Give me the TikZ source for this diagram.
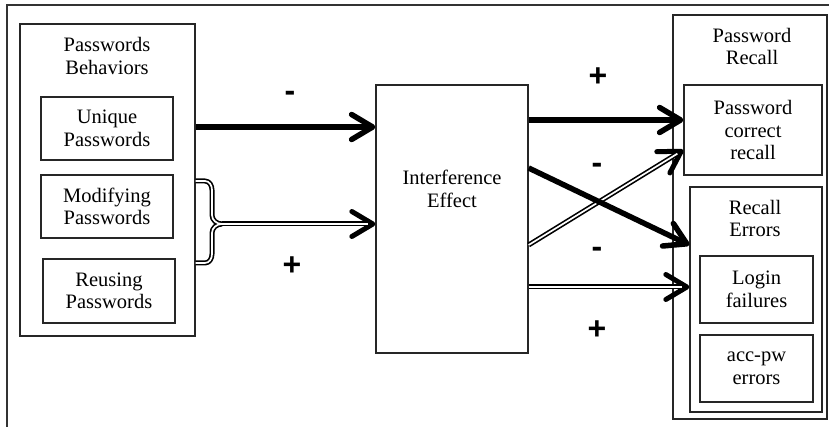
\documentclass[tikz,border=0pt]{standalone}
\usepackage{fontspec}
\setmainfont{Liberation Serif}
\newfontfamily\signfont{Liberation Sans}
\usetikzlibrary{arrows.meta}

\tikzset{barb/.tip={Straight Barb[length=21pt, width=25pt, round]}}

\begin{document}
\begin{tikzpicture}[x=1pt, y=-1pt,
        font=\fontsize{20.5}{22.5}\selectfont,
        box/.style={draw=black!85, line width=1.3pt, align=center, inner sep=0pt},
        title/.style={align=center},
        sign/.style={font=\signfont\bfseries\fontsize{32}{32}\selectfont},
        strong/.style={line width=5.5pt, -barb},
        dblout/.style={line width=5pt, line join=round},
        dblin/.style={white, line width=1.7pt, line join=round}]
    \useasboundingbox (0,0) rectangle (829,427);
    \draw[line width=1.8pt, draw=black!80] (7,440) |- (840,5);

    % behaviours on the left
    \node[box, minimum width=175pt, minimum height=312pt] (beh) at (107.5,180) {};
    \node[title] (behtxt) at (107,56) {Passwords\\Behaviors};
    \node[box, minimum width=132pt, minimum height=63pt] (uniq) at (107,128.5) {Unique\\Passwords};
    \node[box, minimum width=132pt, minimum height=63pt] (modi) at (107,206.5) {Modifying\\Passwords};
    \node[box, minimum width=132pt, minimum height=64pt] (reuse) at (109,291) {Reusing\\Passwords};

    % middle
    \node[box, minimum width=152pt, minimum height=268pt] (ie) at (452,219) {};
    \node[title] (ietxt) at (452,189) {Interference\\Effect};

    % recall on the right
    \node[box, minimum width=154pt, minimum height=404pt] (rec) at (750,217) {};
    \node[title] (rectxt) at (752,46.5) {Password\\Recall};
    \node[box, minimum width=138pt, minimum height=90pt] (corr) at (753,130) {Password\\correct\\recall};
    \node[box, minimum width=132pt, minimum height=225pt] (err) at (756,299.5) {};
    \node[title] (errtxt) at (755,218.5) {Recall\\Errors};
    \node[box, minimum width=113pt, minimum height=67pt] (login) at (756.5,289.5) {Login\\failures};
    \node[box, minimum width=113pt, minimum height=67pt] (accpw) at (756.5,368.5) {acc-pw\\errors};

    % fork joining modifying and reusing
    \coordinate (fork) at (222,224);
    \draw[dblout] (beh.east |- 0,181) -- (205,181) to[out=0, in=90] (212,190) -- (212,215) to[out=-90, in=180] (fork);
    \draw[dblout] (beh.east |- 0,263) -- (205,263) to[out=0, in=-90] (212,254) -- (212,233) to[out=90, in=180] (fork);
    \draw[dblout, -barb] (fork) -- (ie.west |- fork);
    \draw[dblin] (beh.east |- 0,181) -- (205,181) to[out=0, in=90] (212,190) -- (212,215) to[out=-90, in=180] (fork);
    \draw[dblin] (beh.east |- 0,263) -- (205,263) to[out=0, in=-90] (212,254) -- (212,233) to[out=90, in=180] (fork);
    \draw[dblin, shorten >=7pt] (fork) -- (ie.west |- fork);

    \draw[strong] (beh.east |- 0,127) -- (ie.west |- 0,127);

    % arrows into recall
    \draw[dblout, -barb] (ie.east |- 0,245) -- (corr.west |- 0,150);
    \draw[dblin, shorten >=7pt] (ie.east |- 0,245) -- (corr.west |- 0,150);
    \draw[dblout, -barb] (ie.east |- 0,287) -- (err.west |- 0,287);
    \draw[dblin, shorten >=7pt] (ie.east |- 0,287) -- (err.west |- 0,287);
    \draw[strong] (ie.east |- 0,120) -- (corr.west |- 0,120);
    \draw[strong] (ie.east |- 0,168) -- (err.west |- 0,245);

    % signs
    \node[sign] (s1) at (290,96) {-};
    \node[sign] (s2) at (292,266) {+};
    \node[sign] (s3) at (598,77) {+};
    \node[sign] (s4) at (597,168) {-};
    \node[sign] (s5) at (597,252) {-};
    \node[sign] (s6) at (597,330) {+};
\end{tikzpicture}
\end{document}
